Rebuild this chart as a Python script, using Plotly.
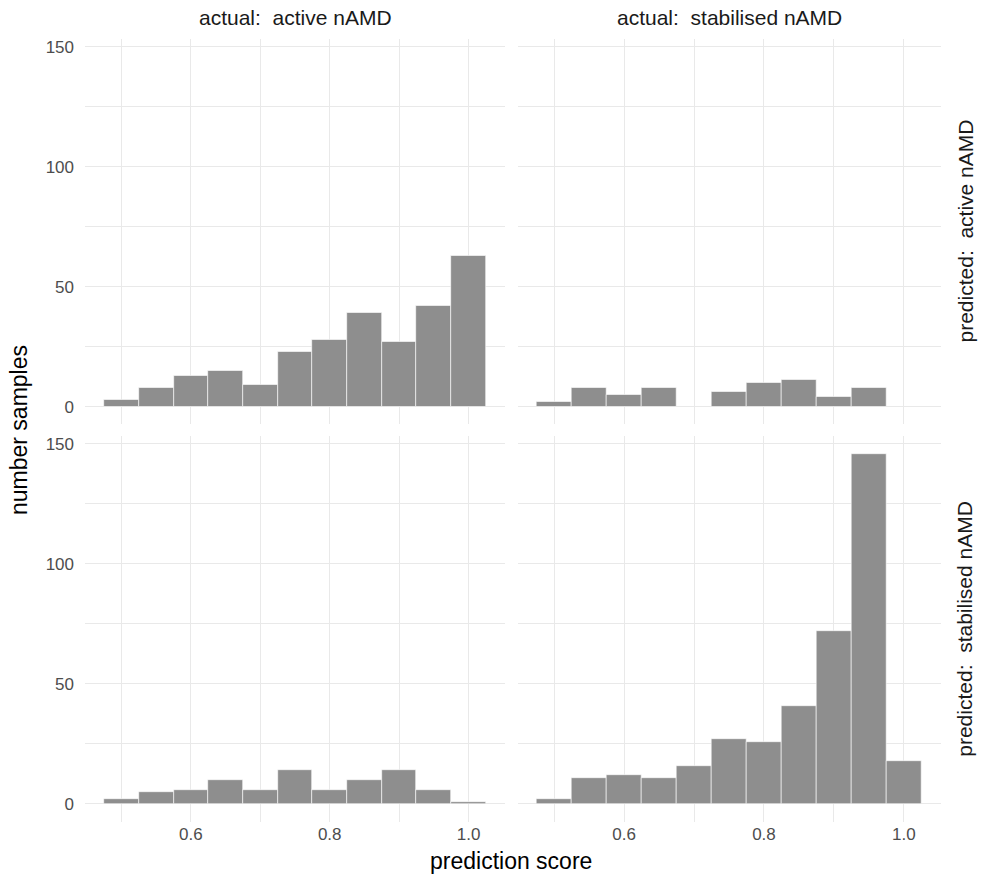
import plotly.graph_objects as go

# ---- data ----
bin_centers = [0.50, 0.55, 0.60, 0.65, 0.70, 0.75, 0.80, 0.85, 0.90, 0.95, 1.00]
# counts per facet: (predicted, actual)
pa_active_act = [3, 8, 13, 15, 9, 23, 28, 39, 27, 42, 63]      # predicted active / actual active
pa_active_stab = [2, 8, 5, 8, 0, 6, 10, 11, 4, 8, 0]           # predicted active / actual stabilised
ps_stab_act = [2, 5, 6, 10, 6, 14, 6, 10, 14, 6, 1]            # predicted stabilised / actual active
ps_stab_stab = [2, 11, 12, 11, 16, 27, 26, 41, 72, 146, 18]    # predicted stabilised / actual stabilised

col_labels = ["actual:\u00a0 active nAMD", "actual:\u00a0 stabilised nAMD"]
row_labels = ["predicted:\u00a0 active nAMD", "predicted:\u00a0 stabilised nAMD"]
x_ticks = [0.6, 0.8, 1.0]
x_minor = [0.5, 0.7, 0.9]
y_ticks = [0, 50, 100, 150]
y_minor = [25, 75, 125]

W, H = 984, 877
FONT = "Liberation Sans, Arial, sans-serif"
BAR = "#8e8e8e"
GRID = "#e9e9e9"

# panel geometry (pixels)
xdom_px = [(85, 505), (517.5, 940.5)]
ydom_px = [(38.8, 424.2), (436, 821.5)]

fig = go.Figure()

panels = [
    (0, 0, pa_active_act),
    (0, 1, pa_active_stab),
    (1, 0, ps_stab_act),
    (1, 1, ps_stab_stab),
]

layout = {}
for i, (r, c, counts) in enumerate(panels):
    idx = i + 1
    xa = "x" if idx == 1 else f"x{idx}"
    ya = "y" if idx == 1 else f"y{idx}"
    xs = [b for b, v in zip(bin_centers, counts) if v > 0]
    ys = [v for v in counts if v > 0]
    fig.add_trace(go.Bar(
        x=xs, y=ys, width=0.05, xaxis=xa, yaxis=ya,
        marker=dict(color=BAR, line=dict(color="white", width=0.6)),
        showlegend=False, hoverinfo="skip",
    ))
    x0, x1 = xdom_px[c]
    y0, y1 = ydom_px[r]
    xkey = "xaxis" if idx == 1 else f"xaxis{idx}"
    ykey = "yaxis" if idx == 1 else f"yaxis{idx}"
    layout[xkey] = dict(
        domain=[x0 / W, x1 / W], anchor=ya, range=[0.4475, 1.0525],
        tickmode="array", tickvals=x_ticks, ticktext=[f"{v:.1f}" for v in x_ticks],
        showticklabels=(r == 1), showgrid=True, gridcolor=GRID, gridwidth=1.2,
        minor=dict(tickmode="array", tickvals=x_minor, showgrid=True, gridcolor=GRID, gridwidth=0.7),
        zeroline=False, showline=False, ticks="",
        tickfont=dict(family=FONT, size=17, color="#4d4d4d"),
    )
    layout[ykey] = dict(
        domain=[1 - y1 / H, 1 - y0 / H], anchor=xa, range=[-7.3, 153.3],
        tickmode="array", tickvals=y_ticks,
        showticklabels=(c == 0), showgrid=True, gridcolor=GRID, gridwidth=1.2,
        minor=dict(tickmode="array", tickvals=y_minor, showgrid=True, gridcolor=GRID, gridwidth=0.7),
        zeroline=False, showline=False, ticks="", ticklabelstandoff=10,
        tickfont=dict(family=FONT, size=17, color="#4d4d4d"),
    )

annotations = []
for c, lab in enumerate(col_labels):
    x0, x1 = xdom_px[c]
    annotations.append(dict(
        text=lab, x=(x0 + x1) / 2 / W, y=1 - 18 / H, xref="paper", yref="paper",
        showarrow=False, xanchor="center", yanchor="middle",
        font=dict(family=FONT, size=21, color="#1a1a1a"),
    ))
for r, lab in enumerate(row_labels):
    y0, y1 = ydom_px[r]
    annotations.append(dict(
        text=lab, x=965 / W, y=1 - (y0 + y1) / 2 / H, xref="paper", yref="paper",
        showarrow=False, xanchor="center", yanchor="middle", textangle=-90,
        font=dict(family=FONT, size=21, color="#1a1a1a"),
    ))
annotations.append(dict(
    text="prediction score", x=511 / W, y=1 - 861 / H, xref="paper", yref="paper",
    showarrow=False, xanchor="center", yanchor="middle",
    font=dict(family=FONT, size=23, color="black"),
))
annotations.append(dict(
    text="number samples", x=19 / W, y=1 - 430 / H, xref="paper", yref="paper",
    showarrow=False, xanchor="center", yanchor="middle", textangle=-90,
    font=dict(family=FONT, size=23, color="black"),
))

fig.update_layout(
    width=W, height=H, margin=dict(l=0, r=0, t=0, b=0),
    paper_bgcolor="white", plot_bgcolor="white",
    bargap=0, annotations=annotations, **layout,
)

fig.write_html("out.html")
